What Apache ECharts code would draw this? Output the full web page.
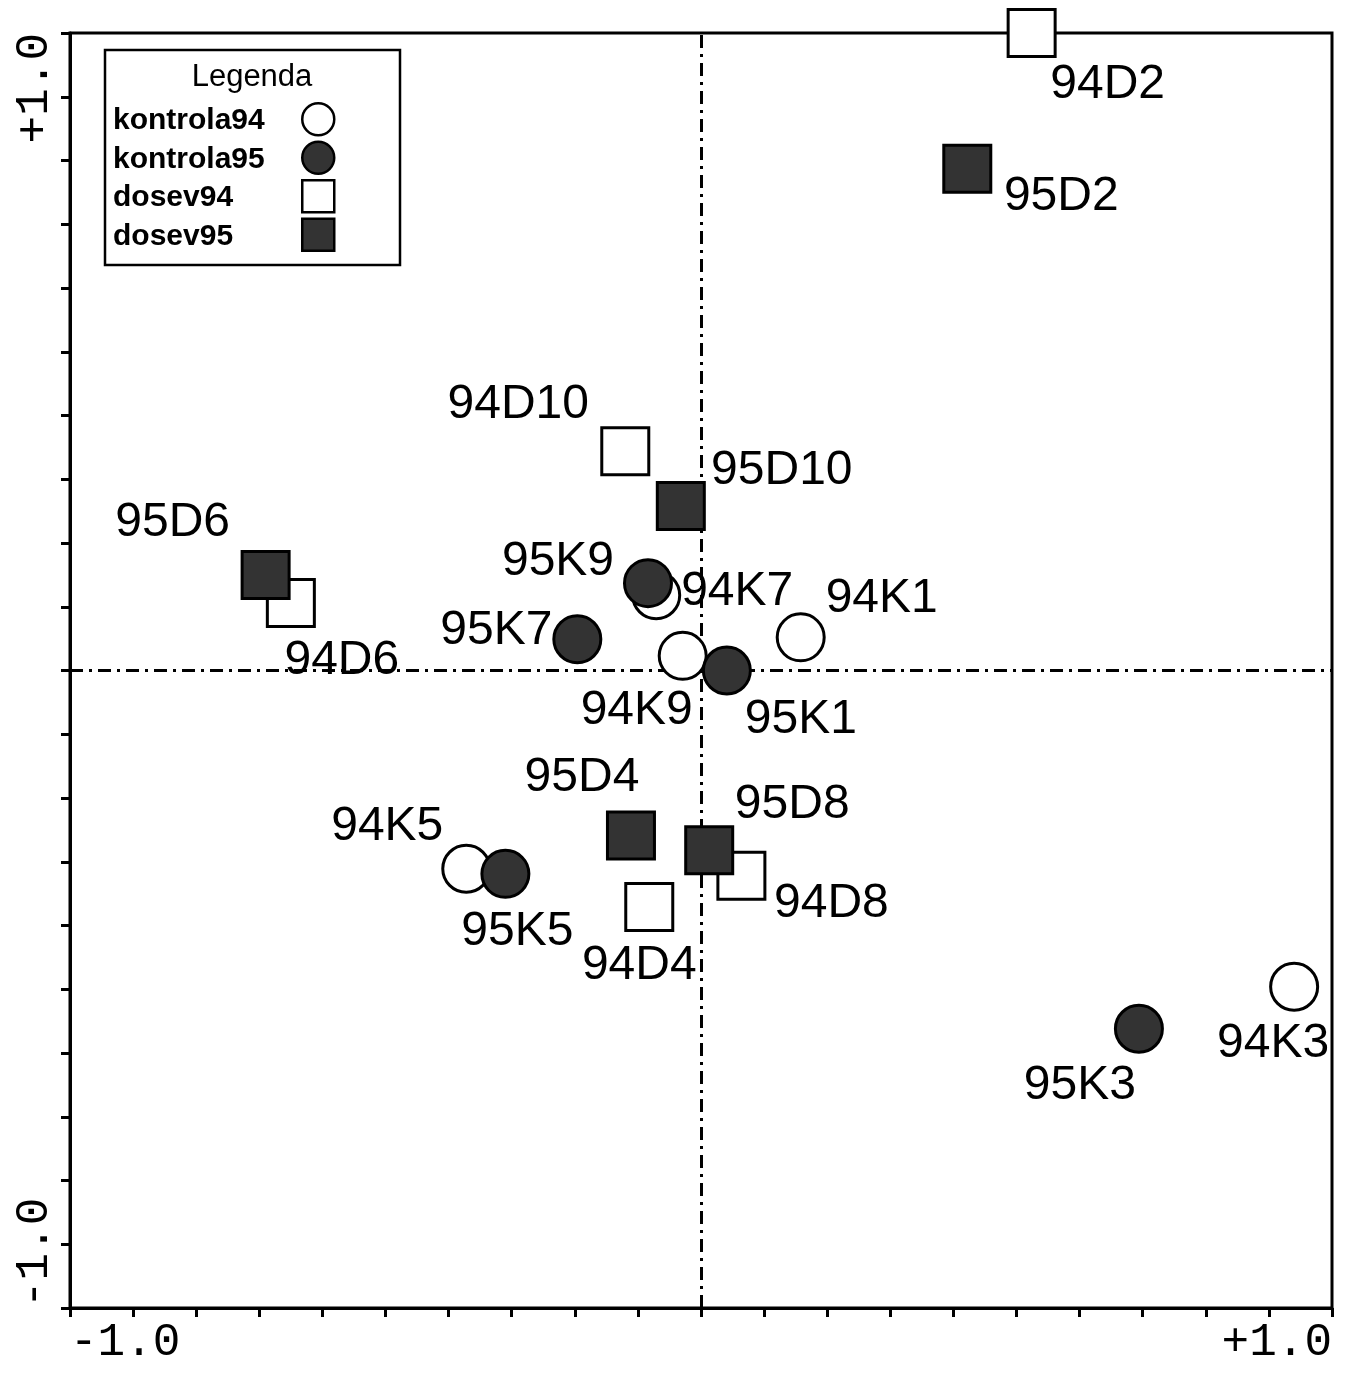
<!DOCTYPE html>
<html>
<head>
<meta charset="utf-8">
<script src="https://cdn.jsdelivr.net/npm/echarts@6/dist/echarts.min.js"></script>
<style>
html,body{margin:0;padding:0;background:#fff;}
#chart{width:1350px;height:1373px;}
</style>
</head>
<body>
<div id="chart"></div>
<script>
// ---- data (ordination scores) ----
const kontrola94Names = ['94K1', '94K3', '94K5', '94K7', '94K9'];
const kontrola94X = [0.158, 0.940, -0.372, -0.071, -0.029];
const kontrola94Y = [0.052, -0.496, -0.311, 0.118, 0.023];

const kontrola95Names = ['95K1', '95K3', '95K5', '95K7', '95K9'];
const kontrola95X = [0.041, 0.694, -0.310, -0.196, -0.084];
const kontrola95Y = [0.000, -0.562, -0.319, 0.049, 0.137];

const dosev94Names = ['94D2', '94D4', '94D6', '94D8', '94D10'];
const dosev94X = [0.524, -0.082, -0.650, 0.064, -0.120];
const dosev94Y = [1.000, -0.371, 0.106, -0.322, 0.344];

const dosev95Names = ['95D2', '95D4', '95D6', '95D8', '95D10'];
const dosev95X = [0.422, -0.111, -0.690, 0.013, -0.032];
const dosev95Y = [0.787, -0.259, 0.150, -0.282, 0.258];

const seriesNames = ['kontrola94', 'kontrola95', 'dosev94', 'dosev95'];
const legendTitle = 'Legenda';
const axisMin = -1.0;
const axisMax = 1.0;
const tickStep = 0.1;

// ---- label placement (styling, pixel offsets from marker centre) ----
const labelOffset = {
  '94K1': [81, -39], '94K3': [-21, 57], '94K5': [-79, -42], '94K7': [81, -4], '94K9': [-46, 55],
  '95K1': [74, 49], '95K3': [-59, 57], '95K5': [12, 58], '95K7': [-81, -8], '95K9': [-90, -21],
  '94D2': [76, 52], '94D4': [-10, 59], '94D6': [51, 58], '94D8': [90, 28], '94D10': [-107, -46],
  '95D2': [94, 28], '95D4': [-49, -58], '95D6': [-93, -52], '95D8': [83, -46], '95D10': [101, -35]
};

const FONT = '"Liberation Sans", Arial, Helvetica, sans-serif';
const MONO = '"Liberation Mono", "Courier New", monospace';

function buildData(names, xs, ys) {
  return names.map((n, i) => ({
    name: n,
    value: [xs[i], ys[i]],
    label: { offset: labelOffset[n] || [0, 0] }
  }));
}

const pointLabel = {
  show: true,
  position: 'inside',
  align: 'center',
  verticalAlign: 'middle',
  formatter: p => p.name,
  color: '#000',
  fontFamily: FONT,
  fontSize: 48
};

function scatter(name, data, shape, fill, z, extra) {
  return Object.assign({
    name: name,
    type: 'scatter',
    symbol: shape,
    symbolSize: 47,
    clip: false,
    z: z,
    data: data,
    itemStyle: { color: fill, borderColor: '#000', borderWidth: 3, opacity: 1 },
    label: pointLabel,
    emphasis: { disabled: true }
  }, extra || {});
}

const zeroLine = {
  symbol: 'none',
  silent: true,
  z: 1,
  animation: false,
  label: { show: false },
  lineStyle: { color: '#000', width: 3, type: [13, 6, 3, 6] },
  data: [{ xAxis: 0 }, { yAxis: 0 }]
};

function endLabel(v) {
  if (Math.abs(v - axisMax) < 1e-6) return '+1.0';
  if (Math.abs(v - axisMin) < 1e-6) return '-1.0';
  return '';
}

const legendCommon = {
  orient: 'vertical',
  padding: 0,
  itemHeight: 32,
  selectedMode: false,
  z: 10,
  data: seriesNames
};

const chart = echarts.init(document.getElementById('chart'), null, { renderer: 'canvas' });

chart.setOption({
  animation: false,
  backgroundColor: '#fff',
  grid: {
    left: 70, right: 18, top: 33, bottom: 65,
    show: true, borderColor: '#000', borderWidth: 3, backgroundColor: 'transparent'
  },
  xAxis: {
    type: 'value',
    min: axisMin, max: axisMax, interval: tickStep,
    splitLine: { show: false },
    axisLine: { onZero: false, lineStyle: { color: '#000', width: 3 } },
    axisTick: { show: true, length: 9, inside: false, lineStyle: { color: '#000', width: 3 } },
    axisLabel: {
      show: true, color: '#000', fontFamily: MONO, fontSize: 46, margin: 12,
      showMinLabel: true, showMaxLabel: true,
      alignMinLabel: 'left', alignMaxLabel: 'right',
      formatter: v => endLabel(v)
    }
  },
  yAxis: {
    type: 'value',
    min: axisMin, max: axisMax, interval: tickStep,
    splitLine: { show: false },
    axisLine: { onZero: false, lineStyle: { color: '#000', width: 3 } },
    axisTick: { show: true, length: 9, inside: false, lineStyle: { color: '#000', width: 3 } },
    axisLabel: {
      show: true, color: '#000', fontFamily: MONO, fontSize: 46, margin: 12,
      rotate: 90,
      showMinLabel: true, showMaxLabel: true,
      alignMinLabel: 'left', alignMaxLabel: 'right',
      formatter: v => endLabel(v)
    }
  },
  legend: [
    // text column
    Object.assign({}, legendCommon, {
      left: 107,
      top: 105,
      itemGap: 6.5,
      icon: 'none',
      itemWidth: 1,
      itemStyle: { opacity: 0 },
      textStyle: { color: '#000', fontFamily: FONT, fontSize: 30, fontWeight: 'bold', lineHeight: 32 }
    }),
    // symbol column
    Object.assign({}, legendCommon, {
      left: 301,
      top: 102,
      itemGap: 4,
      itemWidth: 32,
      formatter: () => '',
      itemStyle: { borderWidth: 2.5, borderColor: '#000' },
      textStyle: { fontSize: 30, lineHeight: 32 }
    })
  ],
  graphic: [
    {
      type: 'rect',
      z: 0,
      shape: { x: 105, y: 50, width: 295, height: 215 },
      style: { fill: '#fff', stroke: '#000', lineWidth: 2.5 }
    },
    {
      type: 'text',
      x: 252, y: 77, z: 1,
      style: { text: legendTitle, fill: '#000', font: '31px ' + FONT, align: 'center', verticalAlign: 'middle' }
    }
  ],
  series: [
    scatter('kontrola94', buildData(kontrola94Names, kontrola94X, kontrola94Y), 'circle', '#fff', 2, { markLine: zeroLine }),
    scatter('dosev94', buildData(dosev94Names, dosev94X, dosev94Y), 'rect', '#fff', 2),
    scatter('kontrola95', buildData(kontrola95Names, kontrola95X, kontrola95Y), 'circle', '#333', 3),
    scatter('dosev95', buildData(dosev95Names, dosev95X, dosev95Y), 'rect', '#333', 3)
  ]
});
</script>
</body>
</html>
